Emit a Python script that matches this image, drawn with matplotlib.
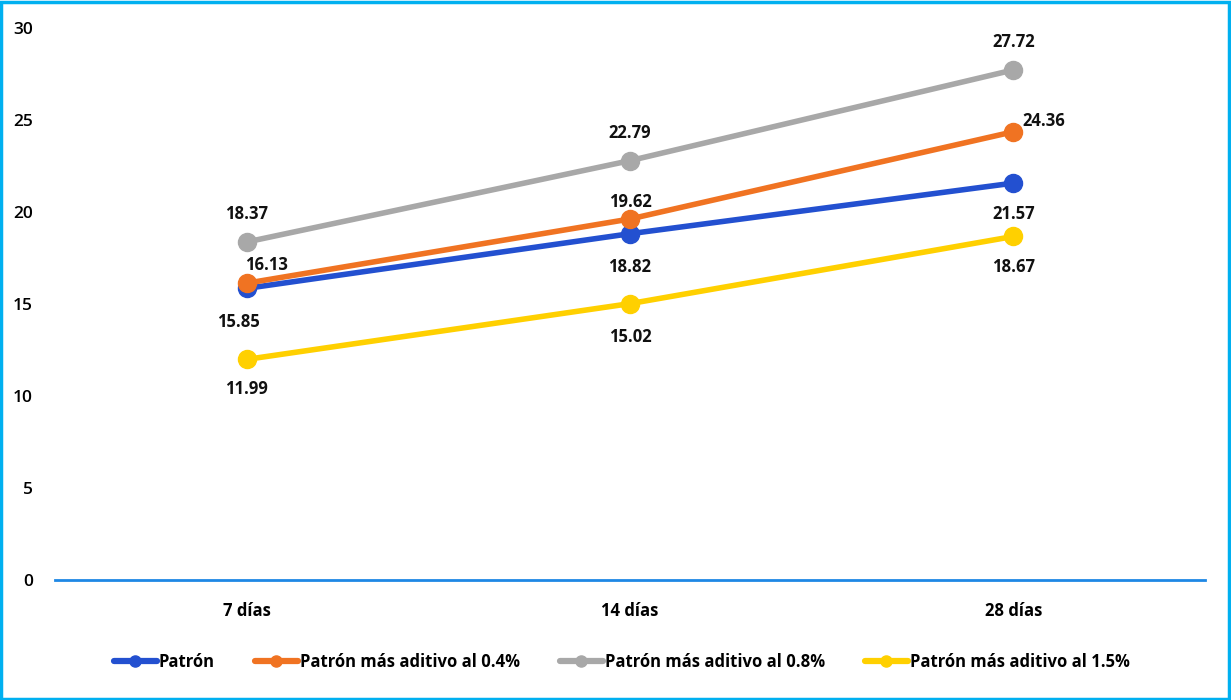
import matplotlib
matplotlib.use("Agg")
import matplotlib.pyplot as plt
from matplotlib.patches import Rectangle

categories = ["7 días", "14 días", "28 días"]
series_names = ["Patrón", "Patrón más aditivo al 0.4%",
                "Patrón más aditivo al 0.8%", "Patrón más aditivo al 1.5%"]
patron = [15.85, 18.82, 21.57]
aditivo_04 = [16.13, 19.62, 24.36]
aditivo_08 = [18.37, 22.79, 27.72]
aditivo_15 = [11.99, 15.02, 18.67]
y_ticks = [0, 5, 10, 15, 20, 25, 30]

colors = ["#2350D0", "#F07322", "#A8A8A8", "#FFD000"]
series = [patron, aditivo_04, aditivo_08, aditivo_15]
# label offsets in points (dx, dy) per series and point
offsets = [
    [(-6, -24), (0, -24), (0, -22)],
    [(14, 13), (0, 12), (22, 8)],
    [(0, 20), (0, 20), (0, 20)],
    [(0, -21), (0, -24), (0, -22)],
]

plt.rcParams['font.family'] = ['Open Sans', 'DejaVu Sans']
fig = plt.figure(figsize=(12.31, 7.0), dpi=100)
ax = fig.add_axes([55 / 1231, 1 - 580 / 700, 1150 / 1231, 552 / 700])

x = list(range(len(categories)))
for vals, c, name, offs in zip(series, colors, series_names, offsets):
    ax.plot(x, vals, color=c, lw=4, marker="o", ms=13, label=name,
            solid_capstyle="round", zorder=3)
    for xi, v, (dx, dy) in zip(x, vals, offs):
        ax.annotate(f"{v:.2f}", (xi, v), xytext=(dx, dy), textcoords="offset points",
                    ha="center", va="center", fontsize=12, fontweight="bold",
                    color="#111111")

ax.set_xlim(-0.5, 2.5)
ax.set_ylim(0, 30)
ax.set_yticks(y_ticks)
ax.set_xticks(x)
ax.set_xticklabels(categories, fontsize=12, fontweight="bold")
ax.set_yticklabels([str(t) for t in y_ticks], fontsize=12.5, fontweight="semibold")
ax.tick_params(axis="y", length=0, pad=16)
ax.tick_params(axis="x", length=0, pad=16)
for s in ["top", "right", "left"]:
    ax.spines[s].set_visible(False)
ax.spines["bottom"].set_color("#1E88E5")
ax.spines["bottom"].set_linewidth(2)

leg = fig.legend(loc="center", bbox_to_anchor=(0.505, 1 - 662 / 700), ncol=4,
                 frameon=False, handlelength=2.6, columnspacing=2.4,
                 handletextpad=0.1, prop={"weight": "bold", "size": 12})
for h in leg.legend_handles:
    h.set_markersize(8)
    h.set_linewidth(4.5)

fig.patches.append(Rectangle((0.001, 0.002), 0.997, 0.995, transform=fig.transFigure,
                             fill=False, edgecolor="#00B0F0", lw=2.5))

fig.savefig("out.png", dpi=100, facecolor="white")
